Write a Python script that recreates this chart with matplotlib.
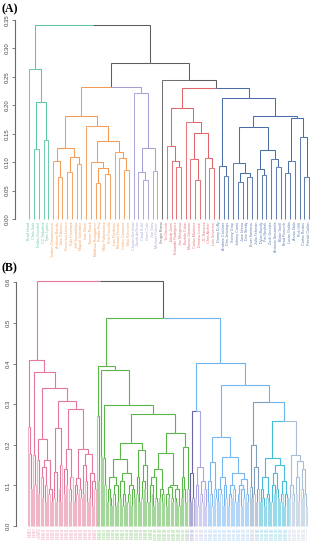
import re
import matplotlib
matplotlib.use("Agg")
import matplotlib.pyplot as plt
from matplotlib.colors import to_rgb

# ---------------- DATA ----------------
# Panel A: leaf names (left to right)
A_names = ["Brad Hand", "Chris Sale", "Dallas Keuchel", "CC Sabathia", "Tyler Lyons",
           "Jordan Zimmermann", "Anthony Banda", "Jake Odorizzi", "Francisco Liriano",
           "Kyle Freeland", "Jeff Samardzija", "Miguel Gonzalez", "Ivan Nova", "Tanner Roark",
           "Madison Bumgarner", "Robbie Ray", "Mike Foltynewicz", "Rick Porcello",
           "Luis Perdomo", "Michael Pineda", "Carlos Carrasco", "Max Scherzer",
           "Clayton Kershaw", "Jacob deGrom", "Chad Kuhl", "Gerrit Cole", "Jon Gray",
           "Michael Fulmer", "Sergio Romo", "Yu Darvish", "Jakob Junis", "Eduardo Rodriguez",
           "Joe Musgrove", "Bartolo Colon", "Marcus Stroman", "Carlos Martinez",
           "Dominic Leone", "JC Ramirez", "Chris Archer", "Luis Severino", "Danny Duffy",
           "Andrew Cashner", "Dan Jennings", "Sonny Gray", "Johnny Cueto", "Jose Urena",
           "Dan Straily", "Ervin Santana", "Julio Teheran", "Dylan Bundy", "Pat Neshek",
           "Zack Greinke", "Antonio Senzatela", "Blake Snell", "Brad Peacock",
           "Lucas Giolito", "Aaron Nola", "Rich Hill", "Carlos Rodon", "Patrick Corbin"]

# merge trees: 'o' = leaf, '(child child)h' = merge at height h (x 0.01), [tag] = cluster colour
A_teal = "(o((oo)12.25(oo)13.9)20.5)26.4[teal]"
A_orange = ("(((o(oo)7.45)10.26((oo)8.27(oo)9.6)10.96)12.4"
            "(o((o((oo)6.4(oo)8)8.9)9.97(o(o(oo)8.6)10.7)11.8)13.66)16.4)18.2[orange]")
A_purple = "(o((o(oo)6.86)8.3(oo)8.4)12.4)22.1[purple]"
A_red = "((o(o(oo)9.2)10.26)12.9(o((o(oo)6.86)10.5(o(oo)8.9)10.67)15.2)17.1)19.46[red]"
A_blue = ("((o(oo)7.6)9.38(((o((oo)6.57(oo)7.3)8.15)9.9((o(oo)7.74)8.8(o(oo)9.1)10.5)12.1)16.2"
          "(((oo)8.15o)10.2(o(oo)7.3)14.5)17.7)18.2)21.34[blue]")
A_tree = f"({A_teal}(({A_orange}{A_purple})23.16(o({A_red}{A_blue})23)24.4)27.5)34.1"
A_colors = {"teal": "#5EC4A1", "orange": "#F39A55", "purple": "#A3A0D6",
            "red": "#E0646A", "blue": "#4B6EA6"}
A_ticks = [0.00, 0.05, 0.10, 0.15, 0.20, 0.25, 0.30, 0.35]

# Panel B
B_pink = ("(o(o(oo)9)17.8)24.3",
          "(o(oo)10)17.5",
          "(o(oo)8)16.3",
          "(((o(oo)7)12((oo)6o)10)14.5((oo)8(oo)6)9)16.3",
          "((oo)7(oo)6)13.4",
          "((o(oo)6)9o)15",
          "(((oo)8(oo)10)14((o(oo)6)9o)12)18.9",
          "(((oo)6(oo)8)10(o(oo)7)9)11.8",
          "(((oo)8(o(oo)6)11)15((oo)7((oo)5(oo)9)11)13)17.7")
B_green = ("(o(oo)11)27.2",
           "(oo)17",
           "(o(oo)10)16.7",
           "(((oo)6(o(oo)5)7)9((o(oo)5)8(oo)6)10)12",
           "(((oo)7((oo)5(oo)6)8)11(((oo)6o)8((oo)5(oo)7)9)10)13",
           "((oo)8(oo)6)12",
           "(((oo)7(oo)9)11(oo)6)15",
           "((((oo)6(o(oo)5)8)10(o(oo)6)7)12((oo)7((oo)6o)8)9)14",
           "((((oo)5(oo)7)8(o(oo)6)7)9.5((o(oo)6)7(oo)5)9)10",
           "((oo)7(o(oo)6)9)12",
           "(oo)9")
B_blue = ("((oo)6(oo)7)13.1[dpurple]",
          "(((oo)7(oo)5)10((o(oo)6)8(o(oo)5)9)11)14.6[lpurple]",
          "(((oo)6(o(oo)5)8)11(o(oo)7)9)15.8",
          "(((oo)6(oo)8)9((oo)5(oo)7)10)12",
          "((((oo)5(oo)7)8(o(oo)6)9)10((((oo)6o)8((oo)5(oo)7)9)10(o(oo)6)8)11.5)13",
          "((o(oo)7)9.7((oo)8((oo)6o)9)14.6)20[steel]",
          "(((oo)6(o(oo)5)7)9((oo)7(oo)6)8)12",
          "((((oo)6(oo)8)10(o(oo)7)9)13(((oo)6o)8((oo)5(oo)7)8)11)15",
          "((oo)7(o(oo)6)8)10",
          "(((oo)8(oo)6)12((o(oo)7)9(o(oo)5)8)14)16")
p = B_pink
B_pink_tree = (f"({p[0]}({p[1]}(({p[2]}{p[3]})21.3(({p[4]}{p[5]})24.1"
               f"({p[6]}({p[7]}{p[8]})19)28.7)30.8)33.9)37.8)40.9[pink]")
g = B_green
B_green_tree = (f"({g[0]}({g[1]}({g[2]}((({g[3]}{g[4]})16.5({g[5]}{g[6]})18.7)20.5"
                f"(({g[7]}{g[8]})18({g[9]}{g[10]})19.5)22.8)27.5)29.8)38.4)39.4[green]")
b = B_blue
B_blue_tree = (f"(({b[0]}{b[1]})28.2(({b[2]}({b[3]}{b[4]})16.9)22[lblue]"
               f"({b[5]}(({b[6]}{b[7]})16.7[cyan]({b[8]}{b[9]})17.5[lsteel])25.9)30.6)34.7)40.2[blue]")
B_tree = f"({B_pink_tree}({B_green_tree}{B_blue_tree})51.1)60.4"
B_colors = {"pink": "#E4789A", "green": "#5CB54A", "blue": "#6DB3EC",
            "dpurple": "#6A63AA", "lpurple": "#ABA6E4", "lblue": "#78B6F0",
            "steel": "#7F9CBB", "cyan": "#45BCD8", "lsteel": "#A7BED6"}
B_ticks = [0.0, 0.1, 0.2, 0.3, 0.4, 0.5, 0.6]

GRAY = "#5E5E5E"


# ---------------- helpers ----------------
def parse(s):
    pos = 0

    def node():
        nonlocal pos
        if s[pos] == 'o':
            pos += 1
            return {"leaf": True, "h": 0.0, "tag": None}
        assert s[pos] == '(', s[pos:pos + 30]
        pos += 1
        a = node()
        bnode = node()
        assert s[pos] == ')', (s[pos:pos + 30])
        pos += 1
        m = re.match(r"[0-9.]+", s[pos:])
        h = float(m.group()) / 100.0
        pos += len(m.group())
        tag = None
        if pos < len(s) and s[pos] == '[':
            e = s.index(']', pos)
            tag = s[pos + 1:e]
            pos = e + 1
        return {"leaf": False, "h": h, "kids": [a, bnode], "tag": tag}

    return node()


def layout(root, palette):
    leaves = []

    def walk(n, col):
        if n["tag"]:
            col = palette[n["tag"]]
        n["col"] = col
        if n["leaf"]:
            n["x"] = len(leaves)
            leaves.append(n)
        else:
            for k in n["kids"]:
                walk(k, col)
            n["x"] = sum(k["x"] for k in n["kids"]) / 2.0

    walk(root, GRAY)
    return leaves


def tint(c, t):
    r, g_, b_ = to_rgb(c)
    return (r + (1 - r) * t, g_ + (1 - g_) * t, b_ + (1 - b_) * t)


def draw(ax, root, lw, leaf_t):
    def rec(n):
        if n["leaf"]:
            return
        for k in n["kids"]:
            c = tint(k["col"], leaf_t) if k["leaf"] else k["col"]
            ax.plot([n["x"], k["x"], k["x"]], [n["h"], n["h"], k["h"]], color=c,
                    lw=lw, solid_joinstyle="miter", solid_capstyle="butt", clip_on=False)
            rec(k)
    rec(root)


def style_axis(ax, ticks, fmt):
    for s in ["top", "right", "bottom"]:
        ax.spines[s].set_visible(False)
    ax.spines["left"].set_bounds(ticks[0], ticks[-1])
    ax.spines["left"].set_color("#6A6A6A")
    ax.spines["left"].set_linewidth(0.8)
    ax.set_yticks(ticks)
    ax.set_yticklabels([fmt.format(t) for t in ticks])
    ax.tick_params(axis="y", length=2.5, width=0.6, color="#6A6A6A", labelsize=4.3,
                   labelcolor="#444444", pad=1.2)
    for lab in ax.get_yticklabels():
        lab.set_rotation(90)
        lab.set_va("center")
        lab.set_ha("right")
    ax.set_xticks([])


W, H = 314, 550
fig = plt.figure(figsize=(W / 100, H / 100), dpi=100)
plt.rcParams["font.family"] = ["Liberation Sans", "DejaVu Sans"]

# ---------------- Panel A ----------------
axA = fig.add_axes([15 / W, (H - 219) / H, (W - 15) / W, 199 / H])
rootA = parse(A_tree)
leavesA = layout(rootA, A_colors)
nA = len(leavesA)
first_px, last_px = 29.3, 309.0
sc = (last_px - first_px) / (nA - 1)
xmin = -(first_px - 15) / sc
axA.set_xlim(xmin, xmin + (W - 15) / sc)
axA.set_ylim(0, 0.35)
draw(axA, rootA, 0.75, 0.12)
for lf, name in zip(leavesA, A_names):
    axA.text(lf["x"], -0.005, name, rotation=90, ha="center", va="top", fontsize=2.7,
             color=tint(lf["col"], 0.1), clip_on=False)
style_axis(axA, A_ticks, "{:.2f}")
fig.text(1 / W, 1 - 9 / H, "(A)", fontsize=8.5, fontweight="bold",
         family=["Liberation Serif", "DejaVu Serif"], va="center", ha="left")

# ---------------- Panel B ----------------
axB = fig.add_axes([16 / W, (H - 526) / H, (W - 16) / W, 243.7 / H])
rootB = parse(B_tree)
leavesB = layout(rootB, B_colors)
nB = len(leavesB)
first_px, last_px = 28.0, 307.0
sc = (last_px - first_px) / (nB - 1)
xmin = -(first_px - 16) / sc
axB.set_xlim(xmin, xmin + (W - 16) / sc)
axB.set_ylim(0, 0.6)
draw(axB, rootB, 0.8, 0.45)
for i, lf in enumerate(leavesB):
    axB.text(lf["x"], -0.006, f"Pitcher {i + 1}", rotation=90, ha="center", va="top",
             fontsize=1.6, color=tint(lf["col"], 0.25), clip_on=False)
style_axis(axB, B_ticks, "{:.1f}")
fig.text(1 / W, 1 - 268 / H, "(B)", fontsize=8.5, fontweight="bold",
         family=["Liberation Serif", "DejaVu Serif"], va="center", ha="left")

fig.savefig("out.png", dpi=100, facecolor="white")
